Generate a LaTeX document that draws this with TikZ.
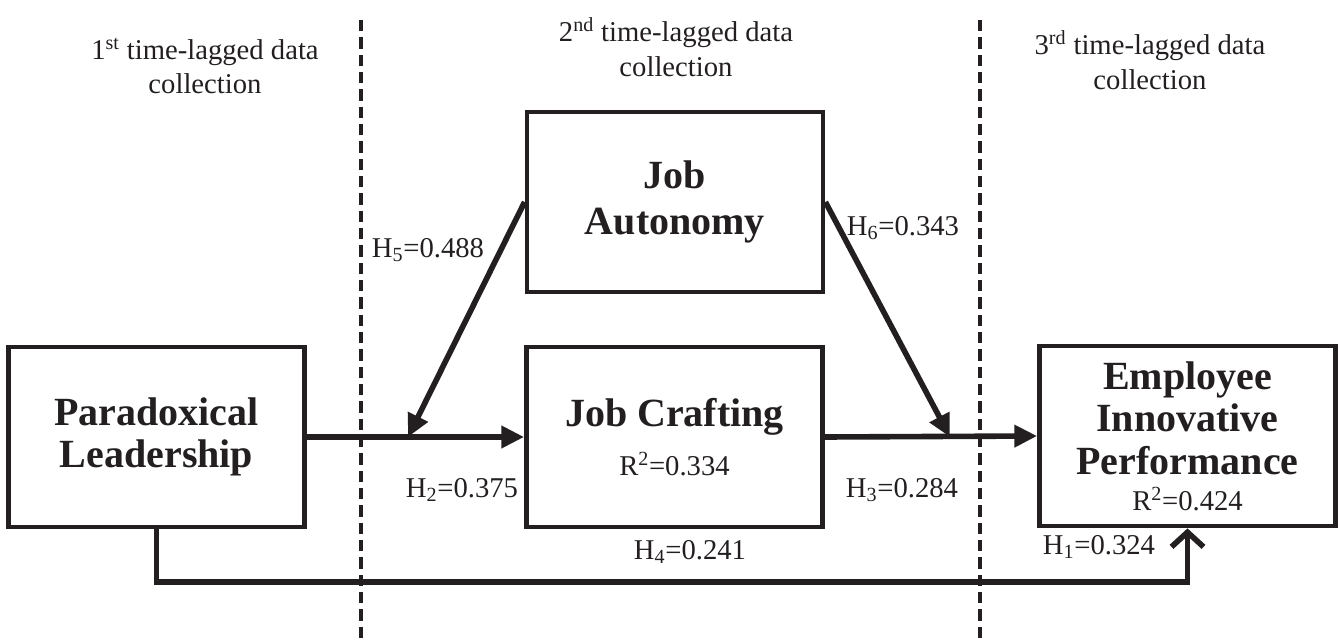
\documentclass[tikz,border=0pt]{standalone}
\usepackage{fontspec}
\setmainfont{Liberation Serif}
\usetikzlibrary{arrows.meta}
\definecolor{ink}{RGB}{35,31,32}

\begin{document}
\begin{tikzpicture}[x=0.75pt, y=-0.75pt,
        box/.style={draw=ink, line width=3.6pt, minimum width=222pt, minimum height=135pt,
                    align=center, inner sep=0pt, text=ink, font=\bfseries\fontsize{30}{32}\selectfont},
        lbl/.style={text=ink, inner sep=0pt, font=\fontsize{21.5}{26}\selectfont},
        phase/.style={lbl, align=center},
        arr/.style={draw=ink, line width=4.2pt, -{Triangle[length=17pt, width=16pt]}},
        direct/.style={draw=ink, line width=4.2pt, -{Straight Barb[length=11pt, width=24pt]}},
        divider/.style={draw=ink, line width=3.4pt, dash pattern=on 8.5pt off 4.5pt},
      ]
      \useasboundingbox (0,0) rectangle (1340,643);
      \coordinate (d1top) at (361,20);
      \coordinate (d1bot) at (361,643);
      \coordinate (d2top) at (980,20);
      \coordinate (d2bot) at (980,643);
      \draw[divider] (d1top) -- (d1bot);
      \draw[divider] (d2top) -- (d2bot);

      \node[phase] (first) at (205,66) {1\textsuperscript{st} time-lagged data\\collection};
      \node[phase] (second) at (676,47) {2\textsuperscript{nd} time-lagged data\\collection};
      \node[phase] (third) at (1150,60) {3\textsuperscript{rd} time-lagged data\\collection};

      \node[box] (lead) at (156.5,437) {Paradoxical\\Leadership};
      \node[box, font=\bfseries\fontsize{30}{35}\selectfont] (auto) at (675,202) {Job\\Autonomy};
      \node[box] (craft) at (674.5,437) {Job Crafting\\[5pt]{\mdseries\fontsize{21.5}{26}\selectfont R\textsuperscript{2}=0.334}};
      \node[box] (perf) at (1187.5,436) {Employee\\Innovative\\Performance\\[-5pt]{\mdseries\fontsize{21.5}{26}\selectfont R\textsuperscript{2}=0.424}};

      \coordinate (mod1) at (408,437);
      \coordinate (mod2) at (950,437);
      \coordinate (low) at (0,582);

      \draw[arr] (lead.east) -- (craft.west);
      \draw[arr] (craft.east) -- (perf.west);
      \draw[arr] (auto.west) -- (mod1);
      \draw[arr] (auto.east) -- (mod2);
      \draw[direct] (lead.south) |- (low -| perf.south) -- (perf.south);

      \node[lbl] (h5) at (428,250) {H\textsubscript{5}=0.488};
      \node[lbl] (h6) at (903,228) {H\textsubscript{6}=0.343};
      \node[lbl] (h2) at (462,490) {H\textsubscript{2}=0.375};
      \node[lbl] (h3) at (902,490) {H\textsubscript{3}=0.284};
      \node[lbl] (h4) at (690,552) {H\textsubscript{4}=0.241};
      \node[lbl] (h1) at (1099,547) {H\textsubscript{1}=0.324};
    \end{tikzpicture}
\end{document}
